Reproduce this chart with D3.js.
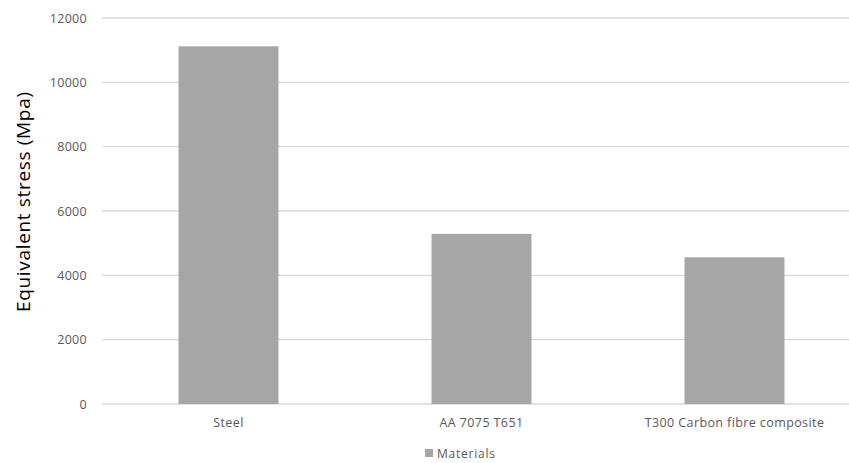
<!DOCTYPE html>
<html><head><meta charset="utf-8">
<script src="https://cdn.jsdelivr.net/npm/d3@7"></script>
<style>body{margin:0;background:#fff}svg{display:block}</style>
</head><body>
<script>
const categories = ["Steel", "AA 7075 T651", "T300 Carbon fibre composite"];
const values = [11120, 5290, 4560];
const yTicks = [0, 2000, 4000, 6000, 8000, 10000, 12000];
const seriesName = "Materials";
const yTitle = "Equivalent stress (Mpa)";

const W = 849, H = 463;
const svg = d3.select("body").append("svg").attr("width", W).attr("height", H);
const font = "Open Sans, Liberation Sans, sans-serif";

const x = d3.scaleBand().domain(categories).range([102, 861]).paddingInner(0.605).paddingOuter(0.3025);
const y = d3.scaleLinear().domain([0, 12000]).range([404, 18]);

// gridlines
svg.append("g").selectAll("line").data(yTicks).join("line")
  .attr("x1", 102).attr("x2", W).attr("y1", d => y(d)).attr("y2", d => y(d))
  .attr("stroke", "#d9d9d9").attr("stroke-width", 1.3);

// y-axis labels
const yAxis = d3.axisLeft(y).tickValues(yTicks).tickSize(0).tickPadding(0).tickFormat(d3.format("d"));
const ga = svg.append("g").attr("transform", "translate(87,0)").call(yAxis);
ga.select(".domain").remove();
ga.selectAll("text").attr("fill", "#595959").attr("font-size", 12.5).attr("font-family", font)
  .attr("letter-spacing", 0.3);

// bars
svg.append("g").selectAll("rect").data(values).join("rect")
  .attr("x", (d, i) => x(categories[i])).attr("width", x.bandwidth())
  .attr("y", d => y(d)).attr("height", d => y(0) - y(d))
  .attr("fill", "#a6a6a6");

// x-axis labels
const xAxis = d3.axisBottom(x).tickSize(0).tickPadding(0);
const gx = svg.append("g").attr("transform", "translate(0,418)").call(xAxis);
gx.select(".domain").remove();
gx.selectAll("text").attr("fill", "#595959").attr("font-size", 12.5).attr("font-family", font)
  .attr("letter-spacing", 0.4);

// y title
svg.append("text").attr("transform", "translate(30,202) rotate(-90)")
  .attr("text-anchor", "middle").attr("font-size", 19).attr("font-family", font)
  .attr("fill", "#000").attr("textLength", 220).attr("lengthAdjust", "spacing").text(yTitle);

// legend
svg.append("rect").attr("x", 425).attr("y", 449).attr("width", 8).attr("height", 8).attr("fill", "#a6a6a6");
svg.append("text").attr("x", 437).attr("y", 457.5).attr("font-size", 12).attr("font-family", font)
  .attr("fill", "#595959").attr("textLength", 58).attr("lengthAdjust", "spacing").text(seriesName);
</script>
</body></html>
